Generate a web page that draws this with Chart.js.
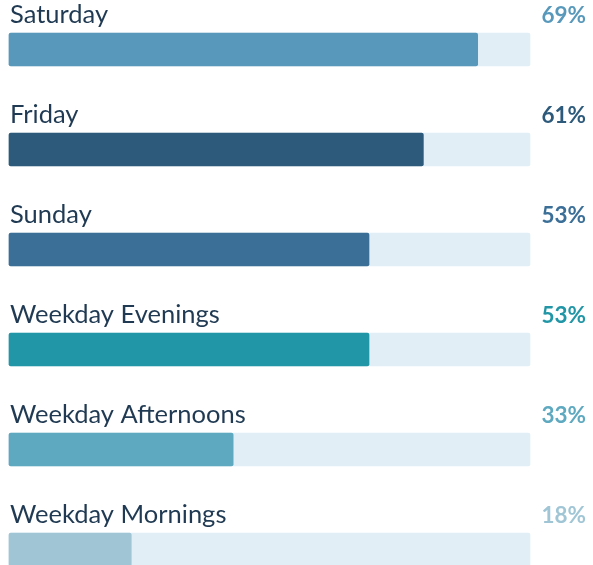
<!DOCTYPE html>
<html>
<head>
<meta charset="utf-8">
<script src="https://cdn.jsdelivr.net/npm/chart.js@4"></script>
<style>
  html, body { margin: 0; padding: 0; background: #ffffff; }
  #wrap { width: 593px; height: 565px; position: relative; }
</style>
</head>
<body>
<div id="wrap"><canvas id="chart"></canvas></div>
<script>
// data
const categorias = ['Saturday', 'Friday', 'Sunday', 'Weekday Evenings', 'Weekday Afternoons', 'Weekday Mornings'];
const valores = [69, 61, 53, 53, 33, 18];
const colores = ['#5899bb', '#2d5a7b', '#3b6f98', '#2196a6', '#5ea9c0', '#a0c6d6'];
const maximo = 76.7;
const pista = categorias.map(() => maximo);

// ==============================
// PLUGIN: etiquetas y porcentajes
// ==============================
const etiquetasPlugin = {
    id: 'etiquetas',
    afterDatasetsDraw(chart) {
        const { ctx } = chart;
        const meta = chart.getDatasetMeta(0);
        ctx.save();
        ctx.textBaseline = 'alphabetic';
        meta.data.forEach((bar, i) => {
            const base = bar.y - 26.5;
            ctx.font = '25.5px Lato';
            ctx.fillStyle = '#1f3a52';
            ctx.textAlign = 'left';
            ctx.fillText(categorias[i], 10, base);

            ctx.font = 'bold 22.5px Lato';
            ctx.fillStyle = colores[i];
            ctx.textAlign = 'right';
            ctx.fillText(valores[i] + '%', 586, base - 0.5);
        });
        ctx.restore();
    }
};

new Chart(document.getElementById('chart'), {
    type: 'bar',
    data: {
        labels: categorias,
        datasets: [
            {
                data: valores,
                backgroundColor: colores,
                borderRadius: 2,
                borderSkipped: false,
                barThickness: 33,
                grouped: false,
                clip: false,
                order: 1
            },
            {
                data: pista,
                backgroundColor: '#e1eef6',
                borderRadius: 2,
                borderSkipped: false,
                barThickness: 33,
                grouped: false,
                clip: false,
                order: 2
            }
        ]
    },
    options: {
        indexAxis: 'y',
        responsive: true,
        maintainAspectRatio: false,
        animation: false,
        layout: { padding: { left: 9, right: 63, top: 49.5, bottom: 15.5 } },
        scales: {
            x: { display: false, min: 0, max: maximo },
            y: { display: false, offset: false }
        },
        plugins: {
            legend: { display: false },
            tooltip: { enabled: false }
        }
    },
    plugins: [etiquetasPlugin]
});
</script>
</body>
</html>
